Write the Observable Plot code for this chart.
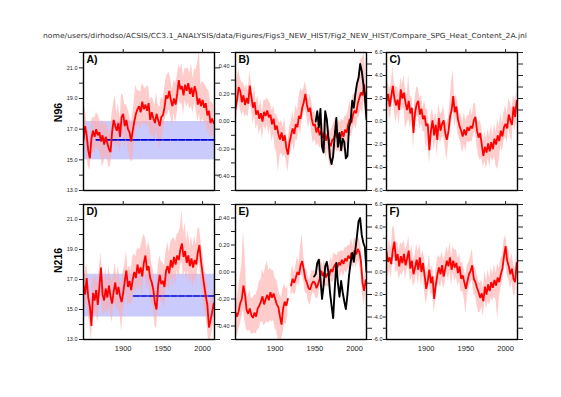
<!DOCTYPE html>
<html><head><meta charset="utf-8">
<script src="https://cdn.jsdelivr.net/npm/d3@7"></script>
<script src="https://cdn.jsdelivr.net/npm/@observablehq/plot@0.6"></script>
<style>
body{margin:0;background:#fff;}
#wrap{position:relative;width:561px;height:397px;overflow:hidden;background:#fff;}
#wrap > svg{position:absolute;}
</style></head><body><div id="wrap"></div>
<script>
// ---------- data ----------
const titleText = "nome/users/dirhodso/ACSIS/CC3.1_ANALYSIS/data/Figures/Figs3_NEW_HIST/Fig2_NEW_HIST/Compare_SPG_Heat_Content_2A.jnl";
const rowLabels = ["N96", "N216"];
const panelTags = ["A)", "B)", "C)", "D)", "E)", "F)"];
const xTicks = [1900, 1950, 2000];
const years = d3.range(1850, 2015, 2); // 1850 ... 2014

const redA = [16.3,17.2,16.6,15.6,15.1, 16.4,16.9,16.5,17.0,16.6, 16.8,16.2,16.6,16.0,16.5, 16.1,15.7,15.5,16.8,17.6,
  17.2,16.9,17.4,16.5,17.8, 18.0,17.2,17.6,17.0,16.8, 16.2,16.9,17.5,18.0,18.3, 18.5,18.1,18.8,18.3,18.6,
  18.2,18.7,17.6,18.1,17.7, 17.4,18.0,17.6,17.2,17.8, 17.9,18.4,19.2,19.0,19.5, 18.9,18.5,19.0,18.6,19.3,
  20.2,19.6,19.8,19.2,19.9, 19.5,20.0,19.3,19.7,19.1, 19.8,19.4,18.6,19.0,18.5, 18.9,18.4,18.7,17.9,18.2, 17.4,17.7,17.4];
const upA = [1.0,1.3,0.9,1.2,0.8, 1.1,0.9,1.2,1.0,1.4, 0.9,1.2,1.0,1.3,0.9, 1.1,1.0,1.4,1.2,1.1,
  2.0,1.1,1.3,1.0,1.5, 1.2,1.4,1.0,1.3,1.1, 1.2,1.0,1.4,1.9,1.2, 1.0,1.3,1.2,1.5,1.0,
  1.6,1.1,1.3,1.0,1.2, 1.1,1.4,1.0,1.2,1.3, 1.0,1.2,1.1,1.6,1.2, 1.3,1.0,1.2,1.4,1.1,
  1.0,1.3,1.5,1.2,1.1, 1.4,1.0,1.3,1.6,1.2, 1.1,1.5,2.8,3.1,1.4, 1.2,1.6,1.1,1.7,1.3, 1.4,1.0,1.2];
const downA = [1.0,0.9,1.3,1.0,0.8, 1.1,1.4,1.0,1.2,0.9, 1.2,1.0,2.1,1.1,1.3, 1.0,1.2,0.9,1.3,1.1,
  1.2,1.0,1.4,1.1,1.3, 1.1,1.5,1.0,1.2,1.6, 1.3,2.0,1.1,1.2,1.0, 1.3,1.1,1.4,1.0,1.2,
  1.1,1.3,1.0,1.5,1.1, 1.2,1.0,1.3,1.4,1.6, 1.2,1.0,1.3,1.1,1.2, 1.1,1.4,1.0,1.2,1.3,
  1.2,1.0,1.1,1.3,1.0, 1.1,1.3,1.0,1.2,1.1, 1.0,1.2,1.1,1.0,1.3, 1.2,1.0,1.3,1.1,1.2, 1.0,1.1,0.9];

const redB = [0.09,0.16,0.25,0.22,0.14, 0.19,0.12,0.17,0.13,0.26, 0.18,0.10,0.14,0.05,0.08, 0.02,0.06,0.00,0.07,0.04,
  0.08,0.03,0.05,-0.02,0.02, -0.06,-0.03,-0.09,-0.13,-0.08, -0.14,-0.10,-0.19,-0.24,-0.15, -0.10,-0.05,-0.09,-0.02,-0.04,
  0.04,0.02,0.10,0.14,0.20, 0.12,0.07,0.10,0.02,-0.03, -0.02,-0.08,-0.04,-0.10,-0.07, -0.12,-0.08,-0.14,-0.09,-0.15,
  -0.18,-0.13,-0.13,-0.07,-0.12, -0.09,-0.13,-0.07,-0.11,-0.06, -0.08,-0.02,0.02,-0.01,0.05, 0.08,0.06,0.13,0.17,0.21, 0.19,0.27,0.15];
const upB = [0.12,0.15,0.13,0.10,0.14, 0.09,0.12,0.10,0.08,0.11, 0.10,0.08,0.12,0.09,0.11, 0.08,0.10,0.07,0.09,0.11,
  0.09,0.12,0.08,0.10,0.09, 0.11,0.08,0.10,0.12,0.09, 0.10,0.13,0.09,0.08,0.11, 0.09,0.12,0.10,0.14,0.11,
  0.13,0.22,0.12,0.10,0.09, 0.11,0.08,0.10,0.12,0.09, 0.10,0.08,0.11,0.09,0.12, 0.09,0.11,0.08,0.10,0.09,
  0.11,0.09,0.12,0.10,0.08, 0.10,0.12,0.09,0.11,0.10, 0.12,0.10,0.13,0.11,0.14, 0.12,0.15,0.13,0.18,0.24, 0.27,0.23,0.20];
const downB = [0.10,0.12,0.09,0.13,0.10, 0.11,0.09,0.12,0.10,0.13, 0.09,0.12,0.10,0.11,0.09, 0.12,0.10,0.13,0.09,0.11,
  0.10,0.12,0.09,0.13,0.11, 0.14,0.20,0.28,0.12,0.15, 0.12,0.14,0.10,0.13,0.11, 0.12,0.10,0.13,0.11,0.10,
  0.09,0.12,0.10,0.08,0.11, 0.10,0.12,0.09,0.11,0.13, 0.11,0.10,0.12,0.09,0.11, 0.12,0.10,0.13,0.11,0.14,
  0.16,0.12,0.11,0.13,0.10, 0.12,0.10,0.11,0.13,0.10, 0.11,0.09,0.12,0.10,0.11, 0.10,0.12,0.11,0.13,0.12, 0.14,0.12,0.15];
const obsYearsB = d3.range(1951, 2016, 2);
const obsB = [0.0,0.9,-0.5,1.1,-2.2,-2.7,0.9,0.2,-1.4,-3.1, -3.7,-3.0,-1.2,0.3,-2.2,-1.0,-2.5,-1.5,-1.8,-3.2,
  -3.0,-0.5,0.0,1.8,1.2,2.4,3.3,3.8,5.0,4.4, 3.3,2.1,0.2];

const redC = [1.8,2.4,1.3,2.2,3.1, 2.0,1.4,1.9,1.0,2.8, 2.0,2.5,1.6,1.0,1.8, 0.7,1.2,-1.0,0.8,1.5,
  1.8,0.6,1.1,0.2,0.5, -0.4,-0.2,-2.5,-0.8,0.1, -1.2,-0.3,-1.6,0.3,-0.8, -0.2,0.1,-1.0,-1.6,-0.9,
  0.4,1.0,2.2,0.8,1.3, 0.2,-0.4,-0.8,-1.3,-0.7, -1.2,-0.5,-0.8,-0.4,-0.6, 0.1,0.4,-0.8,-1.4,-1.0,
  -2.0,-3.0,-2.2,-2.7,-1.9, -2.6,-1.8,-2.4,-1.5,-2.0, -1.2,-1.7,-0.8,-1.3,-0.5, -0.2,-0.6,0.6,0.1,-0.3, 1.3,0.4,1.8];
const upC = [1.2,1.0,1.5,1.1,1.7, 1.3,1.6,1.1,1.4,1.0, 1.2,1.5,1.1,1.3,2.2, 1.4,1.0,1.3,1.2,1.5,
  1.1,1.4,1.2,1.0,1.3, 1.5,1.2,1.1,1.4,1.0, 1.3,1.1,1.6,1.2,1.4, 1.0,1.3,1.2,1.5,1.1,
  1.4,2.4,2.3,1.2,1.0, 1.3,1.1,1.4,1.2,1.5, 1.2,1.0,1.3,1.6,1.1, 1.4,1.2,1.0,1.3,1.1,
  1.5,1.2,1.4,1.1,1.3, 1.2,1.5,1.1,1.3,1.0, 1.4,1.2,1.5,1.1,1.3, 1.6,1.2,1.4,1.5,1.3, 1.0,1.4,0.8];
const downC = [1.4,1.1,1.2,1.5,1.0, 1.2,1.5,1.1,1.3,1.4, 1.1,1.3,2.2,1.2,1.5, 1.3,1.1,1.4,1.2,1.0,
  1.5,1.2,1.3,1.1,1.4, 2.2,1.4,1.2,1.3,1.1, 1.4,1.2,1.5,1.3,1.1, 1.2,1.4,1.3,1.8,1.2,
  1.1,1.3,1.2,1.4,1.0, 1.3,1.1,1.2,1.5,1.3, 1.4,1.2,1.1,1.3,1.2, 1.1,1.3,1.4,1.6,2.4,
  1.2,1.0,1.3,1.5,1.2, 1.4,1.3,1.1,1.5,1.9, 3.0,1.6,1.4,1.3,1.2, 1.1,1.3,1.2,1.4,1.5, 1.2,1.3,1.6];

const redD = [16.6,16.0,17.1,15.8,15.2, 13.9,16.1,15.6,16.3,15.3, 16.5,17.8,16.0,15.6,16.4, 15.8,16.6,15.9,15.4,16.2,
  16.8,16.0,16.5,15.9,15.5, 16.1,16.9,17.6,16.5,16.9, 16.3,17.0,17.5,17.1,18.0, 17.4,17.8,17.2,18.1,18.6,
  17.6,17.9,17.1,16.8,16.3, 15.4,15.0,16.6,17.3,16.7, 16.9,16.5,17.6,17.9,17.4, 18.3,17.8,18.5,18.0,18.6,
  18.3,19.0,19.4,18.5,18.9, 18.1,18.6,17.9,18.4,17.8, 18.3,18.0,18.8,19.3,18.2, 17.4,16.6,15.9,15.3,13.8, 14.3,14.8,15.4];
const upD = [1.1,1.4,1.0,1.3,1.2, 1.5,1.1,1.3,1.0,1.4, 1.2,1.0,1.3,1.1,1.4, 1.0,1.3,1.2,1.5,1.1,
  1.3,1.1,1.4,1.0,1.2, 1.4,1.1,1.3,1.2,1.0, 1.3,1.5,1.2,1.4,1.1, 1.6,1.3,2.4,1.9,1.2,
  1.4,1.6,2.0,1.2,1.3, 1.1,1.4,1.2,1.3,1.5, 1.2,1.4,1.3,1.6,1.4, 1.2,1.9,1.3,1.5,1.4,
  1.8,1.5,2.2,1.6,1.9, 1.4,1.7,1.3,1.5,1.4, 1.6,1.3,1.5,1.2,1.4, 1.3,1.5,1.2,1.4,1.6, 1.3,1.2,1.0];
const downD = [1.2,1.0,1.4,1.1,1.3, 1.0,1.3,1.1,1.4,1.2, 1.3,1.6,1.2,1.0,1.4, 1.2,1.4,1.1,1.3,1.0,
  1.3,1.1,1.4,1.2,2.0, 1.2,1.5,1.1,1.3,1.4, 1.1,1.3,1.2,1.0,1.4, 1.2,1.1,1.3,1.0,1.2,
  1.3,1.1,1.2,1.4,1.1, 1.5,1.3,1.2,1.4,1.2, 1.4,1.5,1.1,1.3,1.2, 1.1,1.3,1.2,1.4,1.0,
  1.3,1.1,1.2,1.4,1.3, 1.2,1.0,1.3,1.1,1.4, 1.2,1.3,1.1,1.0,1.3, 1.2,1.4,1.3,1.5,1.2, 1.3,1.4,1.2];

const redE = [-0.30,-0.33,-0.29,-0.23,-0.20, -0.10,-0.17,-0.28,-0.31,-0.27, -0.32,-0.34,-0.30,-0.33,-0.27, -0.25,-0.22,-0.18,-0.24,-0.20,
  -0.17,-0.21,-0.15,-0.19,-0.16, -0.20,-0.24,-0.26,-0.33,-0.39, -0.27,-0.22,-0.25,-0.20,null, -0.10,-0.05,-0.08,-0.04,0.00,
  -0.02,0.05,0.08,0.02,-0.05, -0.08,-0.12,-0.13,-0.09,-0.07, -0.08,-0.12,-0.09,-0.05,0.01, -0.03,0.00,-0.04,-0.01,-0.03,
  0.02,0.00,0.04,0.06,0.03, 0.07,0.05,0.09,0.06,0.10, 0.08,0.12,0.10,0.14,0.11, 0.16,0.13,0.17,0.15,0.08, -0.08,-0.14,-0.06];
const upE = [0.15,0.12,0.18,0.20,0.25, 0.40,0.30,0.15,0.12,0.14, 0.12,0.15,0.13,0.16,0.14, 0.18,0.16,0.20,0.22,0.24,
  0.25,0.22,0.18,0.20,0.17, 0.15,0.18,0.14,0.16,0.20, 0.15,0.13,0.12,0.10,null, 0.08,0.10,0.07,0.09,0.11,
  0.09,0.15,0.20,0.10,0.08, 0.09,0.07,0.08,0.10,0.08, 0.09,0.07,0.10,0.08,0.09, 0.07,0.09,0.08,0.10,0.07,
  0.09,0.08,0.10,0.07,0.09, 0.08,0.10,0.07,0.09,0.08, 0.10,0.08,0.09,0.11,0.08, 0.10,0.09,0.08,0.10,0.12, 0.10,0.09,0.08];
const downE = [0.12,0.15,0.14,0.16,0.13, 0.18,0.20,0.15,0.13,0.16, 0.14,0.12,0.15,0.13,0.16, 0.17,0.15,0.19,0.16,0.18,
  0.20,0.17,0.21,0.18,0.20, 0.22,0.20,0.24,0.17,0.11, 0.18,0.16,0.14,0.12,null, 0.08,0.10,0.09,0.11,0.08,
  0.09,0.08,0.10,0.09,0.11, 0.08,0.10,0.12,0.09,0.08, 0.09,0.08,0.10,0.08,0.09, 0.08,0.09,0.07,0.10,0.08,
  0.09,0.08,0.10,0.07,0.09, 0.08,0.09,0.08,0.10,0.09, 0.09,0.10,0.08,0.09,0.08, 0.09,0.10,0.09,0.08,0.10, 0.09,0.11,0.10];
const obsYearsE = d3.range(1949, 2016, 2);
const obsE = [-0.4,-0.2,0.8,1.1,-0.6,-2.4,-1.2,0.5,0.9,0.0, -1.8,-3.0,-4.1,-1.5,0.8,-1.0,-2.2,-0.8,-1.8,-2.6,
  -3.3,-2.0,-0.3,0.8,1.7,0.9,2.0,3.2,4.5,4.8, 3.3,2.6,2.2,0.0];

const redF = [1.8,0.9,1.3,0.7,2.0, 2.7,1.0,1.6,0.5,1.4, 0.8,1.6,0.6,1.2,1.9, 0.3,1.0,-0.2,0.4,1.1,
  0.2,1.3,0.0,0.8,-0.3, -1.5,-0.8,0.2,-1.0,-0.4, -2.4,-1.2,-0.3,0.4,-0.2, 0.6,-0.4,0.3,1.0,0.5,
  1.3,0.2,1.0,0.4,0.8, -0.1,0.5,-0.6,-0.3,-0.9, -1.5,-0.8,-0.2,0.1,0.6, -0.6,-0.9,-1.4,-1.8,-2.3,
  -1.9,-2.6,-1.3,-2.0,-1.1, -1.7,-0.9,-1.4,-0.7,-1.2, -0.5,-0.9,-0.2,0.3,1.4, 2.3,1.0,0.5,-0.2,0.3, -0.6,-0.9,0.8];
const upF = [1.3,1.1,1.6,1.4,2.1, 1.2,1.5,1.1,1.4,1.2, 1.6,1.2,1.4,1.1,1.3, 1.2,1.5,1.3,1.1,1.4,
  1.6,1.2,1.4,1.1,1.5, 1.3,1.1,1.4,1.2,1.0, 1.3,1.2,1.5,1.1,1.4, 1.2,1.5,1.1,1.3,1.2,
  1.4,1.1,1.3,1.5,1.2, 1.3,1.1,1.4,1.2,1.0, 1.2,1.4,1.1,1.3,1.5, 1.1,1.3,1.2,1.0,1.3,
  1.2,1.1,1.4,1.2,1.3, 1.1,1.3,1.2,1.4,1.1, 1.3,1.2,1.4,1.1,1.4, 1.0,1.3,1.5,1.2,1.4, 1.3,1.2,1.0];
const downF = [1.2,1.4,1.1,1.3,1.0, 1.3,1.1,1.4,1.2,1.5, 1.1,1.3,1.2,1.0,1.4, 1.2,1.4,1.1,1.3,1.2,
  1.4,1.2,1.3,1.1,1.5, 1.4,1.2,1.3,1.1,1.4, 1.2,1.3,1.1,1.4,1.2, 1.3,1.1,1.2,1.0,1.3,
  1.2,1.4,1.1,1.3,1.2, 1.1,1.3,1.2,1.4,1.5, 2.2,1.3,1.2,1.1,1.3, 1.4,1.2,1.6,1.8,1.3,
  1.2,1.4,1.1,1.3,1.5, 1.3,1.4,1.2,1.5,1.3, 3.7,1.5,1.3,1.2,1.1, 1.2,1.4,1.1,1.3,1.2, 1.4,1.2,1.3];

// blue control-run band and mean (panels A and D)
const bandA = [15.0, 17.5], meanA = 16.3, meanSpanA = [1866, 2015];
const bandD = [14.5, 17.35], meanD = 15.9, meanSpanD = [1913, 2015];

// ---------- drawing ----------
const wrap = document.getElementById("wrap");
const FONT = '"Liberation Sans", Arial, sans-serif';

function rows(red, up, down) {
  return years.map((year, i) => red[i] == null
    ? {year, v: NaN, hi: NaN, lo: NaN}
    : {year, v: red[i], hi: red[i] + up[i], lo: red[i] - down[i]});
}

function panel(cfg) {
  const ml = 40, mr = 14, mt = 10, mb = 22;
  const marks = [];
  if (cfg.band) {
    marks.push(Plot.rect([{x1: 1850, x2: 2015, y1: cfg.band[0], y2: cfg.band[1]}],
      {x1: "x1", x2: "x2", y1: "y1", y2: "y2", fill: "#cacafc"}));
  }
  marks.push(Plot.areaY(cfg.rows, {x: "year", y1: "lo", y2: "hi", fill: "#ffaaaa", fillOpacity: 0.6, clip: true}));
  if (cfg.mean != null) {
    marks.push(Plot.line([{year: cfg.meanSpan[0], v: cfg.mean}, {year: cfg.meanSpan[1], v: cfg.mean}],
      {x: "year", y: "v", stroke: "#0000d8", strokeWidth: 1.6, strokeDasharray: "6,1.5"}));
  }
  marks.push(Plot.line(cfg.rows, {x: "year", y: "v", stroke: "#ff0000", strokeWidth: 1.8, strokeLinejoin: "miter", clip: true}));
  if (cfg.obs) {
    const obsRows = cfg.obsYears.map((year, i) => ({year, v: cfg.obs[i]}));
    marks.push(Plot.line(obsRows, {x: "year", y: d => d.v / 12, stroke: "#000", strokeWidth: 1.9, clip: true}));
  }
  marks.push(Plot.frame({stroke: "#000", strokeWidth: 1.4}));
  marks.push(Plot.axisX({anchor: "top", ticks: xTicks, tickSize: 4, tickFormat: () => "", label: null}));
  if (cfg.bottom) {
    marks.push(Plot.axisX({anchor: "bottom", ticks: xTicks, tickSize: 0, tickPadding: 6,
      tickFormat: d => String(d), fontSize: 7.5, label: null}));
  }
  marks.push(Plot.axisY({anchor: "left", ticks: cfg.leftTicks, tickSize: cfg.leftSize, tickPadding: cfg.leftPad,
    tickFormat: cfg.leftFormat, fontSize: 5.5, label: null}));
  marks.push(Plot.axisY({anchor: "right", ticks: cfg.rightTicks, tickSize: 5, tickFormat: () => "", label: null}));
  marks.push(Plot.text([cfg.tag], {frameAnchor: "top-left", dx: 3, dy: 3, text: d => d, lineAnchor: "top",
    fontSize: 10.5, fontWeight: "bold", fill: "#000"}));

  const svg = Plot.plot({
    width: ml + 131 + mr, height: mt + cfg.h + mb,
    marginLeft: ml, marginRight: mr, marginTop: mt, marginBottom: mb,
    x: {domain: [1850, 2015], label: null},
    y: {domain: cfg.yDomain, label: null},
    style: {background: "transparent", overflow: "visible", fontFamily: FONT, color: "#222"},
    marks
  });
  svg.style.left = (cfg.left - ml) + "px";
  svg.style.top = (cfg.top - mt) + "px";
  wrap.appendChild(svg);
}

const tempTicks = d3.range(13, 23);
const tempFmt = d => (d % 2 === 1 ? d.toFixed(1) : "");
const sixTicks = d3.range(-6, 7);
const sixFmt = d => (d % 2 === 0 ? d.toFixed(1) : "");
const tenthTicks = d3.range(-5, 6).map(v => v / 10);
const tenthFmt = d => { const k = Math.round(d * 10); return (k % 2 === 0 && Math.abs(k) < 5) ? d.toFixed(2) : ""; };
const twelfthTicks = d3.range(-6, 7).map(v => v / 12);

const cols = [83, 235, 386];
const rowsY = [{top: 52, h: 138, bottom: false}, {top: 204, h: 135, bottom: true}];

const defs = [
  {r: rowsY[0], left: cols[0], tag: panelTags[0], rows: rows(redA, upA, downA), yDomain: [13, 22],
   band: bandA, mean: meanA, meanSpan: meanSpanA,
   leftTicks: tempTicks, leftFormat: tempFmt, leftSize: 4, leftPad: 2, rightTicks: tempTicks},
  {r: rowsY[0], left: cols[1], tag: panelTags[1], rows: rows(redB, upB, downB), yDomain: [-0.5, 0.5],
   obs: obsB, obsYears: obsYearsB,
   leftTicks: tenthTicks, leftFormat: tenthFmt, leftSize: 4, leftPad: 2, rightTicks: twelfthTicks},
  {r: rowsY[0], left: cols[2], tag: panelTags[2], rows: rows(redC, upC, downC), yDomain: [-6, 6],
   leftTicks: sixTicks, leftFormat: sixFmt, leftSize: 3, leftPad: 1, rightTicks: sixTicks},
  {r: rowsY[1], left: cols[0], tag: panelTags[3], rows: rows(redD, upD, downD), yDomain: [13, 22],
   band: bandD, mean: meanD, meanSpan: meanSpanD,
   leftTicks: tempTicks, leftFormat: tempFmt, leftSize: 4, leftPad: 2, rightTicks: tempTicks},
  {r: rowsY[1], left: cols[1], tag: panelTags[4], rows: rows(redE, upE, downE), yDomain: [-0.5, 0.5],
   obs: obsE, obsYears: obsYearsE,
   leftTicks: tenthTicks, leftFormat: tenthFmt, leftSize: 4, leftPad: 2, rightTicks: twelfthTicks},
  {r: rowsY[1], left: cols[2], tag: panelTags[5], rows: rows(redF, upF, downF), yDomain: [-6, 6],
   leftTicks: sixTicks, leftFormat: sixFmt, leftSize: 3, leftPad: 1, rightTicks: sixTicks}
];
for (const d of defs) panel({...d, top: d.r.top, h: d.r.h, bottom: d.r.bottom});

// ---------- overlay texts ----------
const NS = "http://www.w3.org/2000/svg";
const ov = document.createElementNS(NS, "svg");
ov.setAttribute("width", 561); ov.setAttribute("height", 397);
ov.style.left = "0px"; ov.style.top = "0px"; ov.style.pointerEvents = "none";
function addText(str, attrs) {
  const t = document.createElementNS(NS, "text");
  for (const k in attrs) t.setAttribute(k, attrs[k]);
  t.textContent = str;
  ov.appendChild(t);
}
addText(titleText, {x: 43, y: 37.5, "font-size": 7, "font-family": '"DejaVu Sans", sans-serif', fill: "#333",
  textLength: 484, lengthAdjust: "spacingAndGlyphs"});
addText(rowLabels[0], {transform: "translate(62,112.5) rotate(-90)", "text-anchor": "middle",
  "font-size": 10.5, "font-weight": "bold", "font-family": FONT, fill: "#000"});
addText(rowLabels[1], {transform: "translate(62,260.5) rotate(-90)", "text-anchor": "middle",
  "font-size": 10.5, "font-weight": "bold", "font-family": FONT, fill: "#000"});
wrap.appendChild(ov);
</script></body></html>
